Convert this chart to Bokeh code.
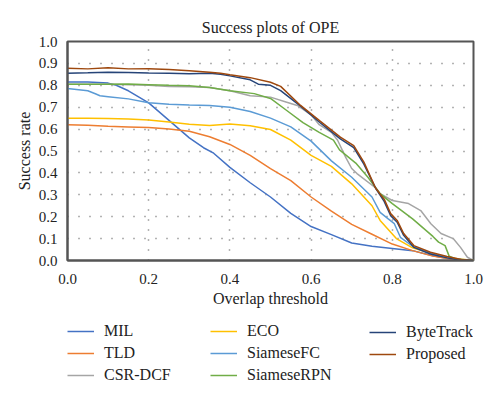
from bokeh.plotting import figure
from bokeh.layouts import column
from bokeh.models import Legend, LegendItem, FixedTicker, Range1d, PrintfTickFormatter
from bokeh.embed import file_html
from bokeh.resources import INLINE

# ---- data ----
mil_x = [0, 0.05, 0.1, 0.12, 0.15, 0.2, 0.25, 0.3, 0.335, 0.36, 0.4, 0.45, 0.5, 0.55, 0.6, 0.65, 0.7, 0.75, 0.8, 0.85, 0.9, 0.95, 1.0]
mil_y = [0.815, 0.815, 0.81, 0.80, 0.775, 0.72, 0.64, 0.56, 0.515, 0.49, 0.425, 0.355, 0.29, 0.215, 0.155, 0.118, 0.08, 0.065, 0.055, 0.045, 0.022, 0.004, 0.0]

tld_x = [0, 0.05, 0.1, 0.15, 0.2, 0.25, 0.3, 0.35, 0.4, 0.45, 0.5, 0.55, 0.6, 0.65, 0.7, 0.75, 0.8, 0.85, 0.9, 0.95, 1.0]
tld_y = [0.62, 0.618, 0.613, 0.61, 0.607, 0.60, 0.59, 0.565, 0.53, 0.48, 0.42, 0.365, 0.29, 0.225, 0.165, 0.12, 0.075, 0.045, 0.02, 0.005, 0.0]

csr_x = [0, 0.1, 0.2, 0.25, 0.3, 0.35, 0.4, 0.45, 0.5, 0.54, 0.566, 0.6, 0.62, 0.65, 0.665, 0.685, 0.70, 0.713, 0.76, 0.77, 0.80, 0.84, 0.87, 0.895, 0.92, 0.95, 0.968, 0.985, 1.0]
csr_y = [0.805, 0.805, 0.80, 0.795, 0.793, 0.79, 0.775, 0.752, 0.746, 0.723, 0.708, 0.665, 0.62, 0.585, 0.55, 0.472, 0.42, 0.397, 0.33, 0.305, 0.274, 0.26, 0.228, 0.168, 0.123, 0.10, 0.06, 0.015, 0.0]

eco_x = [0, 0.05, 0.1, 0.15, 0.2, 0.25, 0.3, 0.35, 0.4, 0.45, 0.5, 0.55, 0.6, 0.65, 0.7, 0.75, 0.77, 0.81, 0.85, 0.9, 0.95, 1.0]
eco_y = [0.65, 0.65, 0.648, 0.646, 0.642, 0.632, 0.622, 0.617, 0.623, 0.615, 0.598, 0.55, 0.48, 0.43, 0.35, 0.25, 0.183, 0.10, 0.058, 0.03, 0.01, 0.0]

sfc_x = [0, 0.05, 0.07, 0.08, 0.1, 0.15, 0.2, 0.25, 0.3, 0.35, 0.4, 0.45, 0.5, 0.55, 0.6, 0.65, 0.7, 0.75, 0.77, 0.79, 0.805, 0.82, 0.85, 0.9, 0.95, 1.0]
sfc_y = [0.785, 0.775, 0.76, 0.752, 0.748, 0.738, 0.72, 0.713, 0.71, 0.708, 0.70, 0.68, 0.65, 0.61, 0.545, 0.455, 0.38, 0.29, 0.22, 0.19, 0.168, 0.106, 0.065, 0.03, 0.008, 0.0]

rpn_x = [0, 0.05, 0.1, 0.15, 0.2, 0.25, 0.3, 0.35, 0.4, 0.46, 0.5, 0.54, 0.58, 0.62, 0.655, 0.67, 0.71, 0.74, 0.76, 0.77, 0.8, 0.85, 0.9, 0.914, 0.93, 0.94, 0.96, 1.0]
rpn_y = [0.805, 0.805, 0.805, 0.806, 0.803, 0.80, 0.798, 0.79, 0.775, 0.762, 0.74, 0.685, 0.63, 0.585, 0.55, 0.505, 0.445, 0.38, 0.33, 0.305, 0.26, 0.19, 0.11, 0.084, 0.068, 0.02, 0.005, 0.0]

byte_x = [0, 0.05, 0.1, 0.15, 0.2, 0.25, 0.3, 0.35, 0.377, 0.4, 0.45, 0.47, 0.5, 0.525, 0.574, 0.623, 0.672, 0.705, 0.73, 0.759, 0.78, 0.796, 0.812, 0.828, 0.853, 0.894, 0.935, 0.96, 1.0]
byte_y = [0.855, 0.857, 0.86, 0.858, 0.856, 0.855, 0.853, 0.855, 0.85, 0.843, 0.825, 0.805, 0.80, 0.776, 0.705, 0.628, 0.555, 0.515, 0.44, 0.33, 0.27, 0.205, 0.175, 0.115, 0.06, 0.03, 0.012, 0.003, 0.0]

prop_x = [0, 0.05, 0.1, 0.15, 0.2, 0.25, 0.3, 0.35, 0.377, 0.4, 0.45, 0.5, 0.525, 0.574, 0.623, 0.672, 0.705, 0.73, 0.759, 0.78, 0.796, 0.812, 0.828, 0.853, 0.894, 0.935, 0.97, 1.0]
prop_y = [0.878, 0.875, 0.88, 0.875, 0.876, 0.872, 0.866, 0.86, 0.855, 0.848, 0.835, 0.814, 0.795, 0.708, 0.635, 0.563, 0.525, 0.449, 0.33, 0.28, 0.214, 0.183, 0.123, 0.068, 0.038, 0.018, 0.005, 0.0]

names = ["MIL", "TLD", "CSR-DCF", "ECO", "SiameseFC", "SiameseRPN", "ByteTrack", "Proposed"]
colors = ["#4472C4", "#ED7D31", "#A5A5A5", "#FFC000", "#5B9BD5", "#70AD47", "#264478", "#9E480E"]
series_x = [mil_x, tld_x, csr_x, eco_x, sfc_x, rpn_x, byte_x, prop_x]
series_y = [mil_y, tld_y, csr_y, eco_y, sfc_y, rpn_y, byte_y, prop_y]

x_ticks = [0.0, 0.2, 0.4, 0.6, 0.8, 1.0]
y_ticks = [0.0, 0.1, 0.2, 0.3, 0.4, 0.5, 0.6, 0.7, 0.8, 0.9, 1.0]

FONT = "Liberation Serif"
TXT = "#222222"

p = figure(width=500, height=312, output_backend="svg", toolbar_location=None,
           x_range=Range1d(0, 1), y_range=Range1d(0, 1),
           title="Success plots of OPE",
           min_border_left=67, min_border_right=27, min_border_top=41, min_border_bottom=52)

p.title.align = "center"
p.title.text_font = FONT
p.title.text_font_size = "16px"
p.title.text_font_style = "normal"
p.title.text_color = TXT
p.title.standoff = 12

for c, xs, ys in zip(colors, series_x, series_y):
    p.line(xs, ys, line_color=c, line_width=1.5)

p.xaxis.ticker = FixedTicker(ticks=x_ticks)
p.yaxis.ticker = FixedTicker(ticks=y_ticks)
for ax in (p.xaxis[0], p.yaxis[0]):
    ax.major_tick_line_color = None
    ax.minor_tick_line_color = None
    ax.axis_line_color = "#555555"
    ax.axis_line_width = 2
    ax.major_label_text_font = FONT
    ax.major_label_text_font_size = "15px"
    ax.major_label_text_color = TXT
    ax.axis_label_text_font = FONT
    ax.axis_label_text_font_size = "16px"
    ax.axis_label_text_font_style = "normal"
    ax.axis_label_text_color = TXT
    ax.formatter = PrintfTickFormatter(format="%.1f")
p.xaxis.axis_label = "Overlap threshold"
p.yaxis.axis_label = "Success rate"
p.xaxis.major_label_standoff = 7
p.yaxis.major_label_standoff = 4
p.xaxis.axis_label_standoff = 3
p.yaxis.axis_label_standoff = 3

p.xgrid.grid_line_color = "#666666"
p.ygrid.grid_line_color = "#666666"
p.xgrid.grid_line_dash = "1 9"
p.ygrid.grid_line_dash = "1 10"
p.xgrid.grid_line_width = 1.5
p.ygrid.grid_line_width = 1.5

p.outline_line_color = "#555555"
p.outline_line_width = 2

# ---- legend panel (a second figure below the plot; its frame aligns with the plot's) ----
leg = figure(width=500, height=86, output_backend="svg", toolbar_location=None,
             x_range=Range1d(0, 1), y_range=Range1d(0, 1),
             min_border_left=67, min_border_right=27, min_border_top=0, min_border_bottom=0,
             x_axis_type=None, y_axis_type=None)
leg.grid.visible = False
leg.outline_line_color = None

items = []
for nm, c, xs, ys in zip(names, colors, series_x, series_y):
    # a one-point line draws nothing but gives the legend its colour
    r = leg.line(x=xs[:1], y=ys[:1], line_color=c, line_width=1.5)
    items.append(LegendItem(label=nm, renderers=[r]))

cols = [(items[0:3], (0, 14)), (items[3:6], (143, 14)), (items[6:8], (302, 35))]
for its, loc in cols:
    lg = Legend(items=its, location=loc, orientation="vertical",
                label_text_font=FONT, label_text_font_size="16px", label_text_color=TXT,
                glyph_width=27, glyph_height=18, label_standoff=10, label_height=18,
                spacing=4, padding=0, margin=0, border_line_color=None,
                background_fill_alpha=0)
    leg.add_layout(lg)

layout = column(p, leg, spacing=0)
open("out.html", "w").write(file_html(layout, INLINE))
